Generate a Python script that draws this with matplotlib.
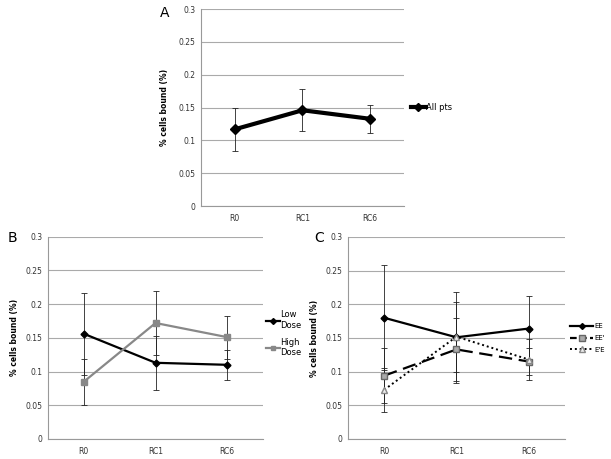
import matplotlib
matplotlib.use("Agg")
import matplotlib.pyplot as plt

categories = ["R0", "RC1", "RC6"]
yticks = [0, 0.05, 0.1, 0.15, 0.2, 0.25, 0.3]
ytick_labels = ["0", "0.05", "0.1", "0.15", "0.2", "0.25", "0.3"]

all_pts = [0.117, 0.146, 0.133]
all_pts_err = [0.033, 0.032, 0.021]

low_dose = [0.156, 0.113, 0.110]
low_dose_err = [0.061, 0.040, 0.022]
high_dose = [0.085, 0.172, 0.151]
high_dose_err = [0.034, 0.047, 0.032]

ee = [0.180, 0.151, 0.164]
ee_err = [0.078, 0.068, 0.049]
eep = [0.094, 0.133, 0.115]
eep_err = [0.041, 0.047, 0.020]
epe = [0.073, 0.152, 0.118]
epe_err = [0.033, 0.052, 0.030]

fig = plt.figure(figsize=(6.11, 4.59), dpi=100)
plt.rcParams['font.family'] = ['DejaVu Sans']

def style(ax, label_x):
    ax.set_ylim(0, 0.3)
    ax.set_xlim(-0.5, 2.5)
    ax.set_yticks(yticks)
    ax.set_yticklabels(ytick_labels, fontsize=5.5, color="#333333")
    ax.set_xticks(range(len(categories)))
    ax.set_xticklabels(categories, fontsize=5.5, color="#333333")
    ax.tick_params(axis="y", length=0, pad=4)
    ax.tick_params(axis="x", length=0, pad=6)
    for s in ["top", "right"]:
        ax.spines[s].set_visible(False)
    for s in ["left", "bottom"]:
        ax.spines[s].set_color("#999999")
        ax.spines[s].set_linewidth(0.8)
    ax.yaxis.grid(True, color="#aaaaaa", linewidth=0.8)
    ax.set_axisbelow(True)
    ax.set_ylabel("% cells bound (%)", fontsize=5.5, fontweight="bold")
    ax.yaxis.set_label_coords(label_x, 0.5)

x = list(range(len(categories)))
ekw = dict(ecolor="#222222", elinewidth=0.6, capsize=2.0, capthick=0.6)

# Panel A
axA = fig.add_axes([0.329, 0.551, 0.332, 0.429])
style(axA, -0.158)
axA.errorbar(x, all_pts, yerr=all_pts_err, color="black", lw=3, marker="D", ms=5, **ekw)
axA.legend(handles=[plt.Line2D([], [], color="black", lw=3, marker="D", ms=4)],
           labels=["All pts"], loc="center left", bbox_to_anchor=(1.0, 0.5),
           fontsize=6, handlelength=1.8, handletextpad=0.1,
           frameon=False, borderpad=0.0, borderaxespad=0.8)
fig.text(0.262, 0.972, "A", fontsize=10, va="center")

# Panel B
axB = fig.add_axes([0.0786, 0.0436, 0.352, 0.4407])
style(axB, -0.135)
axB.errorbar(x, low_dose, yerr=low_dose_err, color="black", lw=1.6, marker="D", ms=3.5, **ekw)
axB.errorbar(x, high_dose, yerr=high_dose_err, color="#888888", lw=1.6, marker="s", ms=4.5, **ekw)
axB.legend(handles=[plt.Line2D([], [], color="black", lw=1.6, marker="D", ms=3),
                    plt.Line2D([], [], color="#888888", lw=1.6, marker="s", ms=3.5)],
           labels=["Low\nDose", "High\nDose"], loc="center left", bbox_to_anchor=(1.0, 0.52),
           fontsize=6, handlelength=1.6, handletextpad=0.1, labelspacing=1.0,
           frameon=False, borderpad=0.0, borderaxespad=0.4)
fig.text(0.012, 0.482, "B", fontsize=10, va="center")

# Panel C
axC = fig.add_axes([0.5696, 0.0436, 0.355, 0.4401])
style(axC, -0.134)
axC.errorbar(x, ee, yerr=ee_err, color="black", lw=1.6, marker="D", ms=3.5, **ekw)
axC.errorbar(x, eep, yerr=eep_err, color="black", lw=1.6, ls=(0, (6, 3)), marker="s", ms=5,
             mfc="#aaaaaa", mec="#666666", **ekw)
axC.errorbar(x, epe, yerr=epe_err, color="black", lw=1.4, ls=(0, (1, 1.5)), marker="^", ms=5,
             mfc="#eeeeee", mec="#888888", **ekw)
axC.legend(handles=[plt.Line2D([], [], color="black", lw=1.6, marker="D", ms=3),
                    plt.Line2D([], [], color="black", lw=1.6, ls=(0, (3, 1.5)), marker="s", ms=4,
                               mfc="#aaaaaa", mec="#666666"),
                    plt.Line2D([], [], color="black", lw=1.4, ls=(0, (1, 1.5)), marker="^", ms=4,
                               mfc="#eeeeee", mec="#888888")],
           labels=["EE", "EE'", "E'E"], loc="center left", bbox_to_anchor=(1.0, 0.5),
           fontsize=5, handlelength=3.2, handletextpad=0.2, labelspacing=0.8,
           frameon=False, borderpad=0.0, borderaxespad=0.8)
fig.text(0.514, 0.482, "C", fontsize=10, va="center")

fig.savefig("out.png", dpi=100)
